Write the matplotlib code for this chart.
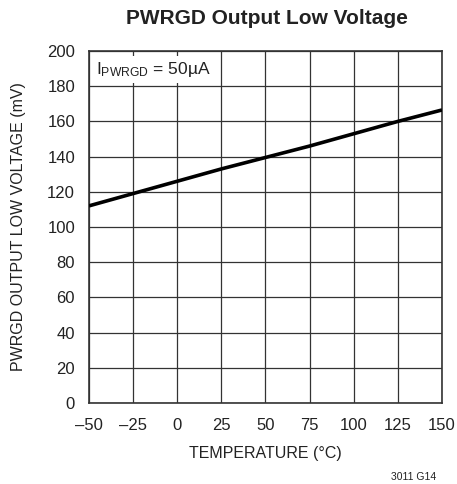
import matplotlib
matplotlib.use('Agg')
import matplotlib.pyplot as plt
from matplotlib import font_manager

temps = [-50, -25, 0, 25, 50, 75, 100, 125, 150]
vol_mv = [112, 119, 126, 133, 139.5, 146, 153, 160, 166.5]
xticks = [-50, -25, 0, 25, 50, 75, 100, 125, 150]
yticks = [0, 20, 40, 60, 80, 100, 120, 140, 160, 180, 200]

names = {f.name for f in font_manager.fontManager.ttflist}
fam = 'Liberation Sans Narrow' if 'Liberation Sans Narrow' in names else 'Liberation Sans'
plt.rcParams['font.family'] = [fam, 'DejaVu Sans']
plt.rcParams['mathtext.fontset'] = 'custom'
plt.rcParams['mathtext.rm'] = fam
plt.rcParams['mathtext.default'] = 'rm'

fig = plt.figure(figsize=(4.57, 4.84), dpi=100)
ax = fig.add_axes([0.1947, 0.1674, 0.7725, 0.7272])

ax.plot(temps, vol_mv, color='black', lw=2.6, solid_capstyle='butt', zorder=3)

ax.set_xlim(-50, 150)
ax.set_ylim(0, 200)
ax.set_xticks(xticks)
ax.set_yticks(yticks)
ax.set_xticklabels([('\u2013%d' % -t) if t < 0 else str(t) for t in xticks])
ax.grid(True, color='#333333', lw=0.9)
ax.tick_params(length=0, labelsize=12, colors='#222222')
ax.tick_params(axis='y', pad=10)
ax.tick_params(axis='x', pad=11)
for s in ax.spines.values():
    s.set_linewidth(1.2)
    s.set_color('#333333')

ax.set_xlabel('TEMPERATURE (°C)', fontsize=11.5, labelpad=9, color='#222222')
ax.set_ylabel('PWRGD OUTPUT LOW VOLTAGE (mV)', fontsize=11.5, labelpad=15, color='#222222')
fig.text(0.585, 0.962, 'PWRGD Output Low Voltage', fontsize=15, fontweight='bold',
         ha='center', va='center', color='#222222')

ax.text(-46, 189.5, r'I$_{\mathrm{PWRGD}}$ = 50µA', fontsize=12.5, ha='left', va='center',
        color='#222222', zorder=4,
        bbox=dict(facecolor='white', edgecolor='none', pad=3))

fig.text(0.955, 0.014, '3011 G14', fontsize=7.5, ha='right', va='center', color='#222222')

fig.savefig('out.png', dpi=100)
